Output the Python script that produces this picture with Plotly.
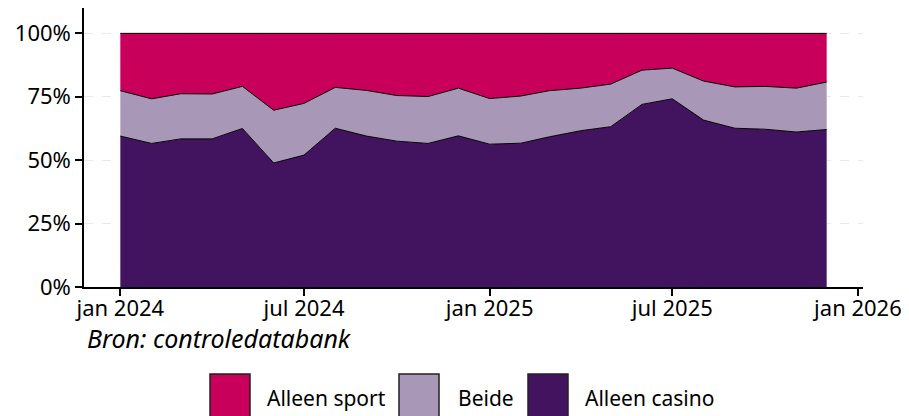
import plotly.graph_objects as go

months = ["2024-01-01","2024-02-01","2024-03-01","2024-04-01","2024-05-01","2024-06-01",
          "2024-07-01","2024-08-01","2024-09-01","2024-10-01","2024-11-01","2024-12-01",
          "2025-01-01","2025-02-01","2025-03-01","2025-04-01","2025-05-01","2025-06-01",
          "2025-07-01","2025-08-01","2025-09-01","2025-10-01","2025-11-01","2025-12-01"]

alleen_casino = [59.5, 56.6, 58.4, 58.4, 62.5, 48.9, 52.0, 62.6, 59.5, 57.5, 56.6, 59.6,
                 56.3, 56.7, 59.2, 61.6, 63.2, 72.0, 74.2, 65.8, 62.6, 62.2, 61.1, 62.1]
beide = [17.9, 17.6, 17.8, 17.7, 16.6, 20.8, 20.4, 16.1, 18.0, 18.0, 18.5, 18.8,
         18.0, 18.6, 18.2, 16.8, 16.8, 13.5, 12.1, 15.4, 16.3, 16.9, 17.3, 18.7]
alleen_sport = [22.6, 25.8, 23.8, 23.9, 20.9, 30.3, 27.6, 21.3, 22.5, 24.5, 24.9, 21.6,
                25.7, 24.7, 22.6, 21.6, 20.0, 14.5, 13.7, 18.8, 21.1, 20.9, 21.6, 19.2]

series_names = ["Alleen sport", "Beide", "Alleen casino"]
colors = {"Alleen sport": "#C9005B", "Beide": "#A897B7", "Alleen casino": "#42145F"}

x_tickvals = ["2024-01-01", "2024-07-01", "2025-01-01", "2025-07-01", "2026-01-01"]
x_ticktext = ["jan 2024", "jul 2024", "jan 2025", "jul 2025", "jan 2026"]
y_tickvals = [0, 25, 50, 75, 100]
y_ticktext = ["0%", "25%", "50%", "75%", "100%"]

FONT = "Noto Sans"
# page body has an 8px margin, so the figure is 8px smaller and offset
OFF = 8
W, H = 909 - OFF, 416 - OFF
L, R, T, B = 84 - OFF, 46, 8 - OFF, 129

fig = go.Figure()
for name, vals in [("Alleen casino", alleen_casino), ("Beide", beide), ("Alleen sport", alleen_sport)]:
    fig.add_trace(go.Scatter(
        x=months, y=vals, name=name, mode="lines", stackgroup="one",
        line=dict(color="black", width=1), fillcolor=colors[name],
        showlegend=False, hoverinfo="x+y+name"))

pw, ph = W - L - R, H - T - B
def px(xp):
    return (xp - OFF - L) / pw
def py(yp):
    return (H - B - (yp - OFF)) / ph

# Custom legend (large square swatches)
legend_items = [("Alleen sport", 210, 265), ("Beide", 399, 456), ("Alleen casino", 528, 583)]
for name, bx, tx in legend_items:
    fig.add_shape(type="rect", xref="paper", yref="paper",
                  x0=px(bx), x1=px(bx + 40), y0=py(374), y1=py(417),
                  fillcolor=colors[name], line=dict(color="#222", width=1.5))
    fig.add_annotation(xref="paper", yref="paper", x=px(tx), y=py(398),
                       xanchor="left", yanchor="middle", showarrow=False,
                       text=name, font=dict(family=FONT, size=21, color="black"))

fig.add_annotation(xref="paper", yref="paper", x=px(85), y=py(338),
                   xanchor="left", yanchor="middle", showarrow=False,
                   text="<i>Bron: controledatabank</i>",
                   font=dict(family=FONT, size=25, color="black"))

fig.update_layout(
    width=W, height=H,
    margin=dict(l=L, r=R, t=T, b=B, pad=0),
    plot_bgcolor="white", paper_bgcolor="white",
    font=dict(family=FONT, size=22, color="black"),
    showlegend=False,
)
fig.update_xaxes(
    type="date", range=["2023-11-26", "2026-01-06"],
    tickvals=x_tickvals, ticktext=x_ticktext, automargin=False,
    showline=True, linecolor="black", linewidth=1.5,
    ticks="outside", ticklen=7, tickcolor="black", tickwidth=1.5,
    ticklabelstandoff=-6,
    showgrid=False, zeroline=False, tickfont=dict(size=22))
fig.update_yaxes(
    range=[0, 110], tickvals=y_tickvals, ticktext=y_ticktext, automargin=False,
    showline=True, linecolor="black", linewidth=1.5,
    ticks="outside", ticklen=7, tickcolor="black", tickwidth=1.5,
    showgrid=True, gridcolor="#e9e9e9", griddash="dash", gridwidth=1,
    zeroline=False, tickfont=dict(size=22))

fig.write_html("out.html")
